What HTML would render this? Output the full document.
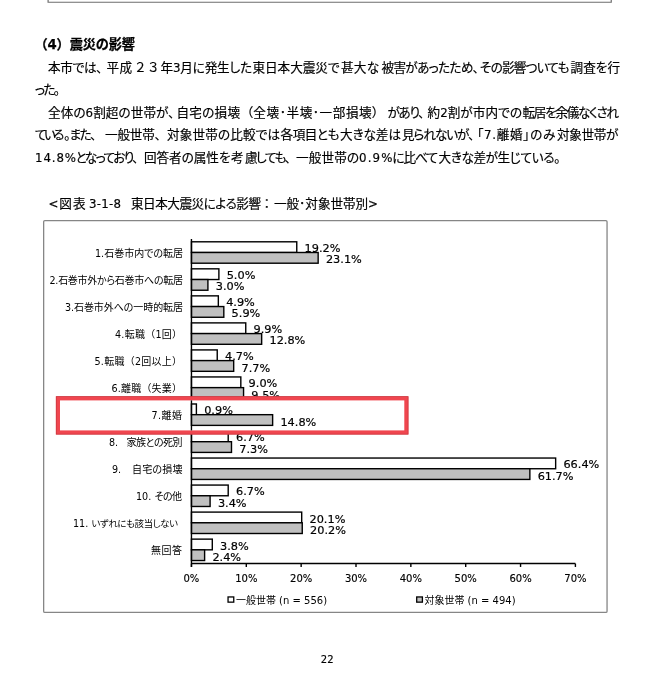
<!DOCTYPE html>
<html lang="ja"><head><meta charset="utf-8"><title>震災の影響</title>
<style>
html,body{margin:0;padding:0;background:#fff;}
body{width:651px;height:675px;overflow:hidden;}
svg{display:block;}
text{font-family:"DejaVu Sans", "Liberation Sans", "Noto Sans CJK JP", sans-serif;fill:#000;}
.b{font-size:12.6px;font-feature-settings:"palt";stroke:#000;stroke-width:0.18px;}
.b tspan{font-size:11.8px;}
.cf{font-size:10px;}
.c2{font-size:9.4px;font-feature-settings:"palt";}
.c tspan,.cf tspan{font-size:9.6px;}
.f{font-size:12.6px;stroke:#000;stroke-width:0.18px;}
.h{font-size:13.2px;font-weight:bold;stroke:#000;stroke-width:0.25px;}
.c{font-size:10px;font-feature-settings:"palt";}
.n{font-family:"DejaVu Sans", "Liberation Sans", "Noto Sans CJK JP", sans-serif;font-size:11.3px;stroke:#000;stroke-width:0.2px;}
.x{font-family:"DejaVu Sans", "Liberation Sans", "Noto Sans CJK JP", sans-serif;font-size:10px;stroke:#000;stroke-width:0.15px;}
.l{font-size:10px;}
</style></head><body>
<svg width="651" height="675" viewBox="0 0 651 675">
<rect x="0" y="0" width="651" height="675" fill="#fff"/>
<g style="filter:grayscale(1)">

<path d="M48.1 0V2.25H611.25V0" fill="none" stroke="#6e6e6e" stroke-width="1.2"/>
<rect x="43.65" y="220.6" width="563.4" height="391.85" rx="1.2" fill="#fff" stroke="#868686" stroke-width="1.3"/>
<text class="h" x="34.50" y="49.20" textLength="100.50" lengthAdjust="spacing">（<tspan>4</tspan>）震災の影響</text>
<text class="b" x="48.00" y="71.70" textLength="54.50" lengthAdjust="spacing">本市では、</text>
<text class="b" x="106.50" y="71.70" textLength="25.50" lengthAdjust="spacing">平成</text>
<text class="f" x="134.00" y="71.70">２</text>
<text class="f" x="147.00" y="71.70">３</text>
<text class="b" x="160.50" y="71.70" textLength="91.50" lengthAdjust="spacing">年<tspan>3</tspan>月に発生した</text>
<text class="b" x="252.50" y="71.70" textLength="87.00" lengthAdjust="spacing">東日本大震災で</text>
<text class="b" x="341.00" y="71.70" textLength="38.00" lengthAdjust="spacing">甚大な</text>
<text class="b" x="381.50" y="71.70" textLength="97.50" lengthAdjust="spacing">被害があったため、</text>
<text class="b" x="480.00" y="71.70" textLength="89.50" lengthAdjust="spacing">その影響ついても</text>
<text class="b" x="570.50" y="71.70" textLength="49.50" lengthAdjust="spacing">調査を行</text>
<text class="b" x="35.00" y="94.15" textLength="25.00" lengthAdjust="spacing">った。</text>
<text class="b" x="48.00" y="116.60" textLength="126.50" lengthAdjust="spacing">全体の<tspan>6</tspan>割超の世帯が、</text>
<text class="b" x="176.50" y="116.60" textLength="63.50" lengthAdjust="spacing">自宅の損壊</text>
<text class="b" x="246.50" y="116.60" textLength="132.00" lengthAdjust="spacing">（全壊･半壊･一部損壊）</text>
<text class="b" x="387.50" y="116.60" textLength="37.00" lengthAdjust="spacing">があり、</text>
<text class="b" x="427.50" y="116.60" textLength="94.50" lengthAdjust="spacing">約<tspan>2</tspan>割が市内での</text>
<text class="b" x="522.50" y="116.60" textLength="96.50" lengthAdjust="spacing">転居を余儀なくされ</text>
<text class="b" x="35.00" y="139.05" textLength="29.50" lengthAdjust="spacing">ている</text>
<text class="b" x="64.00" y="139.05">。</text>
<text class="b" x="69.50" y="139.05" textLength="27.00" lengthAdjust="spacing">また、</text>
<text class="b" x="105.00" y="139.05" textLength="56.00" lengthAdjust="spacing">一般世帯、</text>
<text class="b" x="167.00" y="139.05" textLength="113.00" lengthAdjust="spacing">対象世帯の比較では</text>
<text class="b" x="280.50" y="139.05" textLength="59.00" lengthAdjust="spacing">各項目とも</text>
<text class="b" x="340.00" y="139.05" textLength="61.00" lengthAdjust="spacing">大きな差は</text>
<text class="b" x="402.00" y="139.05" textLength="72.50" lengthAdjust="spacing">見られないが、</text>
<text class="b" x="477.00" y="139.05" textLength="78.50" lengthAdjust="spacing">「<tspan>7.</tspan>離婚」のみ</text>
<text class="b" x="557.00" y="139.05" textLength="61.50" lengthAdjust="spacing">対象世帯が</text>
<text class="b" x="35.00" y="161.50" textLength="41.00" lengthAdjust="spacing"><tspan>14.8%</tspan></text>
<text class="b" x="75.50" y="161.50" textLength="63.00" lengthAdjust="spacing">となっており、</text>
<text class="b" x="144.00" y="161.50" textLength="86.50" lengthAdjust="spacing">回答者の属性を</text>
<text class="b" x="231.00" y="161.50" textLength="26.50" lengthAdjust="spacing">考慮</text>
<text class="b" x="256.00" y="161.50" textLength="35.00" lengthAdjust="spacing">しても、</text>
<text class="b" x="296.00" y="161.50" textLength="63.00" lengthAdjust="spacing">一般世帯の</text>
<text class="b" x="359.00" y="161.50" textLength="33.50" lengthAdjust="spacing"><tspan>0.9%</tspan></text>
<text class="b" x="392.50" y="161.50" textLength="45.50" lengthAdjust="spacing">に比べて</text>
<text class="b" x="438.50" y="161.50" textLength="122.00" lengthAdjust="spacing">大きな差が生じている。</text>
<text class="b" x="48.50" y="207.60" textLength="37.00" lengthAdjust="spacing"><tspan>&lt;</tspan>図表</text>
<text class="b" x="89.00" y="207.60" textLength="32.00" lengthAdjust="spacing"><tspan>3-1-8</tspan></text>
<text class="b" x="131.00" y="207.60" textLength="130.00" lengthAdjust="spacing">東日本大震災による影響</text>
<text class="f" x="260.50" y="207.60">：</text>
<text class="b" x="274.00" y="207.60" textLength="104.00" lengthAdjust="spacing">一般･対象世帯別<tspan>&gt;</tspan></text>
<text class="c" x="95.00" y="257.00" textLength="88.00" lengthAdjust="spacing"><tspan>1.</tspan>石巻市内での転居</text>
<text class="c" x="49.50" y="284.03" textLength="133.50" lengthAdjust="spacing"><tspan>2.</tspan>石巻市外から石巻市への転居</text>
<text class="c" x="65.00" y="311.06" textLength="118.00" lengthAdjust="spacing"><tspan>3.</tspan>石巻市外への一時的転居</text>
<text class="cf" x="115.00" y="338.09" textLength="67.00" lengthAdjust="spacing"><tspan>4.</tspan>転職（<tspan>1</tspan>回）</text>
<text class="cf" x="94.50" y="365.12" textLength="87.50" lengthAdjust="spacing"><tspan>5.</tspan>転職（<tspan>2</tspan>回以上）</text>
<text class="cf" x="111.50" y="392.15" textLength="70.50" lengthAdjust="spacing"><tspan>6.</tspan>離職（失業）</text>
<text class="c" x="109.00" y="446.21"><tspan>8.</tspan></text>
<text class="c" x="126.50" y="446.21" textLength="56.00" lengthAdjust="spacing">家族との死別</text>
<text class="c" x="112.00" y="473.24"><tspan>9.</tspan></text>
<text class="c" x="132.00" y="473.24" textLength="50.50" lengthAdjust="spacing">自宅の損壊</text>
<text class="c" x="136.00" y="500.27"><tspan>10.</tspan></text>
<text class="c" x="154.50" y="500.27" textLength="27.50" lengthAdjust="spacing">その他</text>
<text class="c" x="73.00" y="527.30"><tspan>11.</tspan></text>
<text class="c2" x="91.50" y="527.30" textLength="86.50" lengthAdjust="spacing">いずれにも該当しない</text>
<text class="c" x="151.00" y="554.33" textLength="31.00" lengthAdjust="spacing">無回答</text>
<rect x="191.45" y="241.8" width="105.31" height="10.7" fill="#fff" stroke="#000" stroke-width="1.4"/>
<text class="n" x="304.56" y="252.20">19.2%</text>
<rect x="191.45" y="252.5" width="126.70" height="10.7" fill="#c0c0c0" stroke="#000" stroke-width="1.4"/>
<text class="n" x="325.95" y="263.40">23.1%</text>
<rect x="191.45" y="268.83" width="27.43" height="10.7" fill="#fff" stroke="#000" stroke-width="1.4"/>
<text class="n" x="226.68" y="279.23">5.0%</text>
<rect x="191.45" y="279.53" width="16.46" height="10.7" fill="#c0c0c0" stroke="#000" stroke-width="1.4"/>
<text class="n" x="215.71" y="290.43">3.0%</text>
<rect x="191.45" y="295.86" width="26.88" height="10.7" fill="#fff" stroke="#000" stroke-width="1.4"/>
<text class="n" x="226.13" y="306.26">4.9%</text>
<rect x="191.45" y="306.56" width="32.36" height="10.7" fill="#c0c0c0" stroke="#000" stroke-width="1.4"/>
<text class="n" x="231.61" y="317.46">5.9%</text>
<rect x="191.45" y="322.89" width="54.30" height="10.7" fill="#fff" stroke="#000" stroke-width="1.4"/>
<text class="n" x="253.55" y="333.29">9.9%</text>
<rect x="191.45" y="333.59" width="70.21" height="10.7" fill="#c0c0c0" stroke="#000" stroke-width="1.4"/>
<text class="n" x="269.46" y="344.49">12.8%</text>
<rect x="191.45" y="349.92" width="25.78" height="10.7" fill="#fff" stroke="#000" stroke-width="1.4"/>
<text class="n" x="225.03" y="360.32">4.7%</text>
<rect x="191.45" y="360.62" width="42.23" height="10.7" fill="#c0c0c0" stroke="#000" stroke-width="1.4"/>
<text class="n" x="241.48" y="371.52">7.7%</text>
<rect x="191.45" y="376.95" width="49.37" height="10.7" fill="#fff" stroke="#000" stroke-width="1.4"/>
<text class="n" x="248.62" y="387.35">9.0%</text>
<rect x="191.45" y="387.65" width="52.11" height="10.7" fill="#c0c0c0" stroke="#000" stroke-width="1.4"/>
<text class="n" x="251.36" y="398.55">9.5%</text>
<rect x="191.45" y="431.01" width="36.75" height="10.7" fill="#fff" stroke="#000" stroke-width="1.4"/>
<text class="n" x="236.00" y="441.41">6.7%</text>
<rect x="191.45" y="441.71" width="40.04" height="10.7" fill="#c0c0c0" stroke="#000" stroke-width="1.4"/>
<text class="n" x="239.29" y="452.61">7.3%</text>
<rect x="191.45" y="458.04" width="364.20" height="10.7" fill="#fff" stroke="#000" stroke-width="1.4"/>
<text class="n" x="563.45" y="468.44">66.4%</text>
<rect x="191.45" y="468.74" width="338.42" height="10.7" fill="#c0c0c0" stroke="#000" stroke-width="1.4"/>
<text class="n" x="537.67" y="479.64">61.7%</text>
<rect x="191.45" y="485.07" width="36.75" height="10.7" fill="#fff" stroke="#000" stroke-width="1.4"/>
<text class="n" x="236.00" y="495.47">6.7%</text>
<rect x="191.45" y="495.77" width="18.65" height="10.7" fill="#c0c0c0" stroke="#000" stroke-width="1.4"/>
<text class="n" x="217.90" y="506.67">3.4%</text>
<rect x="191.45" y="512.1" width="110.25" height="10.7" fill="#fff" stroke="#000" stroke-width="1.4"/>
<text class="n" x="309.50" y="522.50">20.1%</text>
<rect x="191.45" y="522.8" width="110.80" height="10.7" fill="#c0c0c0" stroke="#000" stroke-width="1.4"/>
<text class="n" x="310.05" y="533.70">20.2%</text>
<rect x="191.45" y="539.13" width="20.84" height="10.7" fill="#fff" stroke="#000" stroke-width="1.4"/>
<text class="n" x="220.09" y="549.53">3.8%</text>
<rect x="191.45" y="549.83" width="13.16" height="10.7" fill="#c0c0c0" stroke="#000" stroke-width="1.4"/>
<text class="n" x="212.41" y="560.73">2.4%</text>
<path d="M191.45 239.1V566.97" stroke="#000" stroke-width="1.4" fill="none"/>
<path d="M191.45 563.57H575.4" stroke="#000" stroke-width="1.4" fill="none"/>
<path d="M191.45 563.57V566.97" stroke="#000" stroke-width="1.4"/>
<text class="x" x="191.45" y="581.57" text-anchor="middle">0%</text>
<path d="M246.30 563.57V566.97" stroke="#000" stroke-width="1.4"/>
<text class="x" x="246.30" y="581.57" text-anchor="middle">10%</text>
<path d="M301.15 563.57V566.97" stroke="#000" stroke-width="1.4"/>
<text class="x" x="301.15" y="581.57" text-anchor="middle">20%</text>
<path d="M356.00 563.57V566.97" stroke="#000" stroke-width="1.4"/>
<text class="x" x="356.00" y="581.57" text-anchor="middle">30%</text>
<path d="M410.85 563.57V566.97" stroke="#000" stroke-width="1.4"/>
<text class="x" x="410.85" y="581.57" text-anchor="middle">40%</text>
<path d="M465.70 563.57V566.97" stroke="#000" stroke-width="1.4"/>
<text class="x" x="465.70" y="581.57" text-anchor="middle">50%</text>
<path d="M520.55 563.57V566.97" stroke="#000" stroke-width="1.4"/>
<text class="x" x="520.55" y="581.57" text-anchor="middle">60%</text>
<path d="M575.40 563.57V566.97" stroke="#000" stroke-width="1.4"/>
<text class="x" x="575.40" y="581.57" text-anchor="middle">70%</text>
<rect x="228.05" y="596.95" width="5.7" height="5.2" fill="#fff" stroke="#000" stroke-width="1.3"/>
<text class="l" x="235.9" y="603.5">一般世帯 (n = 556)</text>
<rect x="416.7" y="596.95" width="5.7" height="5.2" fill="#c0c0c0" stroke="#000" stroke-width="1.3"/>
<text class="l" x="424.4" y="603.5">対象世帯 (n = 494)</text>
</g>
<rect x="57.95" y="398.35" width="348.4" height="34.1" fill="#fff" stroke="#f0464f" stroke-width="4.1"/>
<rect x="56.25" y="396.65" width="351.8" height="37.5" fill="none" stroke="#c8363f" stroke-width="0.7"/>
<g style="filter:grayscale(1)">
<rect x="191.45" y="403.98" width="4.94" height="10.7" fill="#fff" stroke="#000" stroke-width="1.4"/>
<text class="n" x="204.19" y="414.38">0.9%</text>
<rect x="191.45" y="414.68" width="81.18" height="10.7" fill="#c0c0c0" stroke="#000" stroke-width="1.4"/>
<text class="n" x="280.43" y="425.58">14.8%</text>
<text class="c" x="151.50" y="419.18" textLength="30.50" lengthAdjust="spacing"><tspan>7.</tspan>離婚</text>
<path d="M191.45 400.4V430.4" stroke="#000" stroke-width="1.4" fill="none"/>
<text class="x" x="327.2" y="663.3" text-anchor="middle">22</text>
</g>
</svg></body></html>
